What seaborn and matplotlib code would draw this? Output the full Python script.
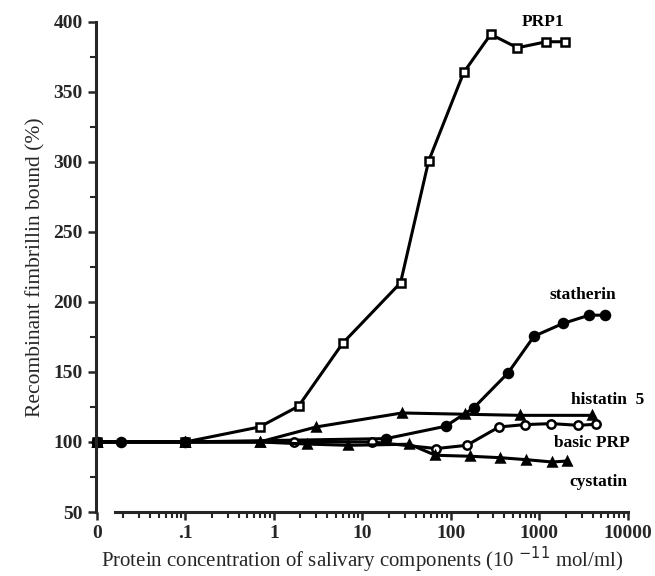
import numpy as np
import matplotlib
matplotlib.use("Agg")
import matplotlib.pyplot as plt
import matplotlib.ticker as ticker
import pandas as pd
import seaborn as sns

sns.set_style("ticks")
plt.rcParams['font.family'] = ['Liberation Serif', 'DejaVu Serif']

# values (x in 10^-11 mol/ml, "0" drawn at 0.01)
prp1_x = [0.01, 0.1, 0.69, 1.9, 6.0, 27, 56, 140, 282, 565, 1200, 1970]
prp1_y = [100, 100, 110.7, 125.5, 170.5, 213.6, 300.4, 363.9, 391, 381.4, 385.7, 385.7]

statherin_x = [0.01, 0.0187, 0.1, 18.6, 87, 181, 443, 871, 1850, 3650, 5500]
statherin_y = [100, 100, 100, 102.4, 111.2, 124.3, 149.3, 175.5, 184.6, 190.5, 190.5]

histatin_x = [0.01, 0.1, 0.69, 3.0, 28, 143, 600, 3900]
histatin_y = [100, 100, 100, 110.7, 120.7, 119.8, 119, 119]

basicprp_x = [0.01, 0.1, 1.67, 13, 68.5, 151, 350, 684, 1370, 2740, 4350]
basicprp_y = [100, 100, 100, 100, 95.3, 97.6, 110.7, 112.4, 113.1, 111.9, 112.6]

cystatin_x = [0.01, 0.1, 0.69, 2.4, 6.9, 34, 67, 166, 356, 700, 1400, 2050]
cystatin_y = [100, 100, 100, 98.5, 97.6, 98.4, 90.5, 89.8, 88.8, 87.4, 85.7, 86.4]

xtick_vals = [0.01, 0.1, 1, 10, 100, 1000, 10000]
xtick_labels = ["0", ".1", "1", "10", "100", "1000", "10000"]
ytick_vals = [50, 100, 150, 200, 250, 300, 350, 400]

series = [
    ("PRP1", prp1_x, prp1_y, "s", "white", 6),
    ("statherin", statherin_x, statherin_y, "o", "black", 6.5),
    ("histatin 5", histatin_x, histatin_y, "^", "black", 5.5),
    ("basic PRP", basicprp_x, basicprp_y, "o", "white", 6),
    ("cystatin", cystatin_x, cystatin_y, "^", "black", 5.5),
]

fig = plt.figure(figsize=(6.55, 5.76), dpi=100)
ax = fig.add_axes([0.1466, 0.1111, 0.812, 0.8512])

for name, xs, ys, mk, fc, ms in series:
    df = pd.DataFrame({"x": xs, "y": ys})
    sns.lineplot(data=df, x="x", y="y", ax=ax, color="black", lw=2.2,
                 marker=mk, markersize=ms, markerfacecolor=fc,
                 markeredgecolor="black", markeredgewidth=1.8,
                 estimator=None, sort=False, clip_on=False)

ax.set_xscale("log")
ax.set_xlim(0.0098, 10000)
ax.set_ylim(50, 400)

ax.xaxis.set_major_locator(ticker.FixedLocator(xtick_vals))
ax.xaxis.set_major_formatter(ticker.FixedFormatter(xtick_labels))
minor = [m * 10.0**e for e in range(-2, 4) for m in range(2, 10)]
ax.xaxis.set_minor_locator(ticker.FixedLocator(minor))
ax.xaxis.set_minor_formatter(ticker.NullFormatter())
ax.set_yticks(ytick_vals)
ax.yaxis.set_minor_locator(ticker.MultipleLocator(25))

for s in ["top", "right"]:
    ax.spines[s].set_visible(False)
ax.spines["left"].set_linewidth(2.2)
ax.spines["bottom"].set_linewidth(2.2)
ax.spines["bottom"].set_bounds(0.016, 10000)

ax.tick_params(axis="both", which="major", width=1.8, length=6, direction="out",
               labelsize=14)
ax.tick_params(axis="both", which="minor", width=1.5, length=4, direction="out")
for lab in ax.get_xticklabels() + ax.get_yticklabels():
    lab.set_fontweight("bold")

ax.set_xlabel(r"Protein concentration of salivary components (10 $^{-11}$ mol/ml)",
              fontsize=15, labelpad=2)
ax.set_ylabel("Recombinant fimbrillin bound (%)", fontsize=15.5, labelpad=6)

txt = dict(fontsize=12.5, fontweight="bold", color="black", ha="center", va="center")
ax.text(1100, 400, "PRP1", **txt)
ax.text(3100, 205, "statherin", **txt)
ax.text(5900, 130, "histatin  5", **txt)
ax.text(3900, 99, "basic PRP", **txt)
ax.text(4600, 71.5, "cystatin", **txt)

fig.savefig("out.png", dpi=100)
